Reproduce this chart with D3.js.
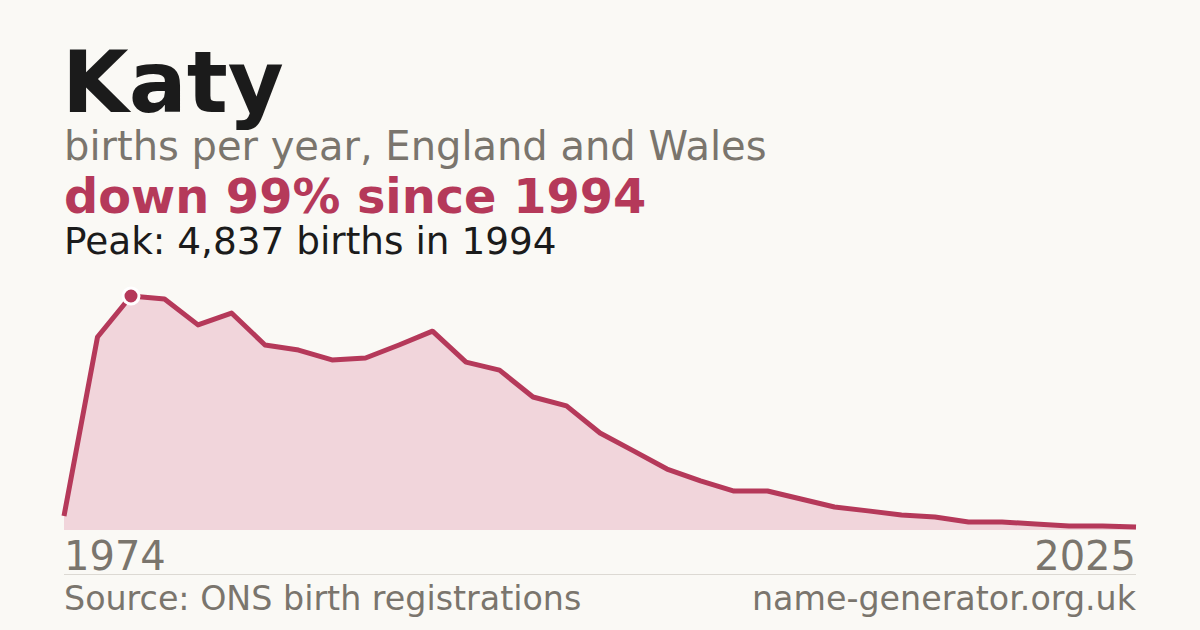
<!DOCTYPE html>
<html>
<head>
<meta charset="utf-8">
<script src="https://cdn.jsdelivr.net/npm/d3@7"></script>
<style>
  html, body { margin: 0; padding: 0; background: #faf9f5; }
  svg { display: block; font-family: "DejaVu Sans", sans-serif; }
</style>
</head>
<body>
<svg class="chart" width="1200" height="630"></svg>
<script>
// ONS data: decade years before 1996, annual after
const years = [1974, 1984, 1994, 1996, 1997, 1998, 1999, 2000, 2001, 2002, 2003,
  2004, 2005, 2006, 2007, 2008, 2009, 2010, 2011, 2012, 2013, 2014, 2015, 2016,
  2017, 2018, 2019, 2020, 2021, 2022, 2023, 2024, 2025];
const births = [290, 3990, 4837, 4775, 4240, 4485, 3825, 3720, 3515, 3555, 3825,
  4110, 3470, 3305, 2750, 2565, 2005, 1635, 1260, 1015, 805, 805, 640, 475,
  395, 310, 270, 165, 165, 125, 85, 85, 60];
const endLabels = ["1974", "2025"];

window.onload = function() {
  let svg = d3.select('.chart');
  let red = '#b5395a';
  let grey = '#7a756d';

  svg.append('rect').attr('width', 1200).attr('height', 630).attr('fill', '#faf9f5');

  let data = years.map(function(y, i) { return {year: y, value: births[i]}; });

  let x = d3.scalePoint().domain(years).range([64, 1136]);
  let y = d3.scaleLinear().domain([0, d3.max(births)]).range([530, 296]);

  let peak = data.reduce(function(a, b) { return b.value > a.value ? b : a; });
  let last = data[data.length - 1];
  let drop = Math.round((1 - last.value / peak.value) * 100);

  // header
  svg.append('text').text('Katy')
    .attr('x', 62).attr('y', 112)
    .style('font-size', '86px').style('font-weight', 'bold').attr('fill', '#1b1b1b');
  svg.append('text').text('births per year, England and Wales')
    .attr('x', 64).attr('y', 160)
    .style('font-size', '40px').attr('fill', grey);
  svg.append('text').text('down ' + drop + '% since ' + peak.year)
    .attr('x', 64).attr('y', 213)
    .style('font-size', '47.8px').style('font-weight', 'bold').attr('fill', red);
  svg.append('text').text('Peak: ' + d3.format(',')(peak.value) + ' births in ' + peak.year)
    .attr('x', 64).attr('y', 254)
    .style('font-size', '37.4px').attr('fill', '#1b1b1b');

  // area + line
  let area = d3.area()
    .x(function(d) { return x(d.year); })
    .y0(y(0))
    .y1(function(d) { return y(d.value); });
  let line = d3.line()
    .x(function(d) { return x(d.year); })
    .y(function(d) { return y(d.value); });

  svg.append('path').datum(data).attr('d', area).attr('fill', '#f1d5db');
  svg.append('path').datum(data).attr('d', line)
    .attr('fill', 'none').attr('stroke', red)
    .attr('stroke-width', 5).attr('stroke-linejoin', 'round');

  svg.append('circle')
    .attr('cx', x(peak.year)).attr('cy', y(peak.value)).attr('r', 8)
    .attr('fill', red).attr('stroke', '#ffffff').attr('stroke-width', 3);

  // year labels
  svg.append('text').text(endLabels[0])
    .attr('x', x.range()[0]).attr('y', 570)
    .style('font-size', '40px').attr('fill', grey);
  svg.append('text').text(endLabels[1])
    .attr('x', x.range()[1]).attr('y', 570)
    .style('font-size', '40px').style('text-anchor', 'end').attr('fill', grey);

  svg.append('line')
    .attr('x1', 64).attr('x2', 1136).attr('y1', 574.5).attr('y2', 574.5)
    .attr('stroke', '#dcd9d3').attr('stroke-width', 1);

  // footer
  svg.append('text').text('Source: ONS birth registrations')
    .attr('x', 64).attr('y', 610)
    .style('font-size', '33.3px').attr('fill', grey);
  svg.append('text').text('name-generator.org.uk')
    .attr('x', 1136).attr('y', 610)
    .style('font-size', '33.3px').style('text-anchor', 'end').attr('fill', grey);
}
</script>
</body>
</html>
